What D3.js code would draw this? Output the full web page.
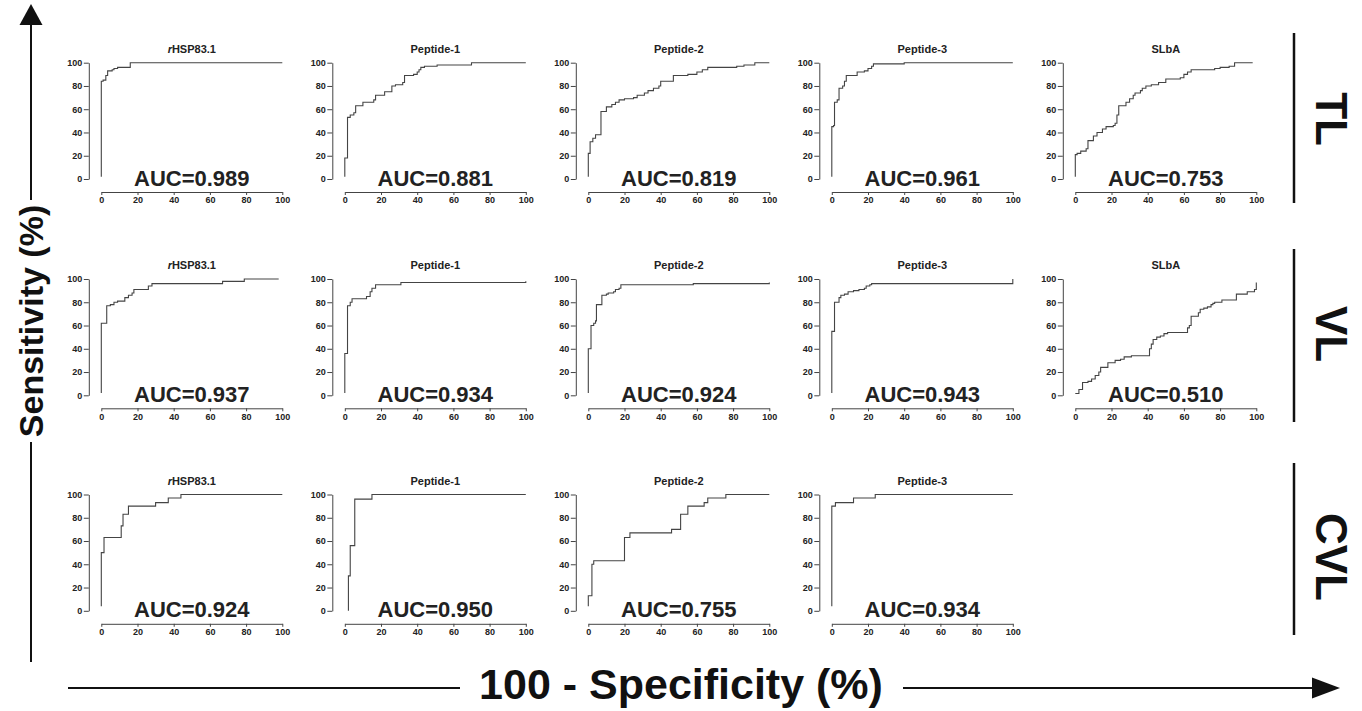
<!DOCTYPE html>
<html><head><meta charset="utf-8">
<script src="https://cdn.jsdelivr.net/npm/d3@7"></script>
<style>body{margin:0;background:#fff}svg{display:block}</style>
</head><body><svg id="c" width="1362" height="711"></svg>
<script>
const rowLabels = ["TL", "VL", "CVL"];
const antigenNames = ["rHSP83.1", "Peptide-1", "Peptide-2", "Peptide-3", "SLbA"];
const axisTicks = [0, 20, 40, 60, 80, 100];
const aucTL = [0.989, 0.881, 0.819, 0.961, 0.753];
const aucVL = [0.937, 0.934, 0.924, 0.943, 0.510];
const aucCVL = [0.924, 0.950, 0.755, 0.934];

const rocTL_rHSP = [[0,2],[0,84],[1,85],[2.5,89],[3.5,93],[6,94],[7,95],[9,96],[16,100],[100,100]];
const rocTL_P1 = [[0,2],[0,18],[1.5,53],[3,55],[5,57],[6,63],[10,66],[16,68],[17,72],[22,75],[26,80],[28,81],[32,83],[33,89],[38,90],[40,92],[41,94],[42,96],[44,97],[51,98],[70,100],[100,100]];
const rocTL_P2 = [[0,2],[0,22],[1,32],[2.5,35],[4,38],[7,58],[10,62],[13,64],[15,66],[17,68],[20,69],[25,70],[27,72],[31,74],[33,76],[36,78],[39,80],[40,84],[47,89],[55,90],[60,92],[63,94],[66,96],[82,97],[86,98],[92,100],[100,100]];
const rocTL_P3 = [[0,2],[0,45],[1,46],[1.5,66],[3,68],[4,78],[6,80],[7,84],[8,89],[14,92],[18,93],[20,95],[22,97],[23,99],[40,100],[100,100]];
const rocTL_SLbA = [[0,2],[0,21],[1,22],[3,24],[6,26],[7,33],[10,37],[12,40],[15,43],[17,45],[21,46],[22,48],[23,55],[24,63],[28,66],[30,69],[32,72],[33,74],[36,76],[37,78],[39,80],[42,81],[46,83],[50,86],[58,87],[60,90],[62,92],[64,94],[77,95],[80,96],[85,97],[88,100],[98,100]];

const rocVL_rHSP = [[0,2],[0,62],[3,77],[5,78],[7,80],[9,81],[13,84],[15,86],[17,88],[18,91],[26,94],[28,96],[67,98],[79,100],[98,100]];
const rocVL_P1 = [[0,2],[0,36],[1.5,77],[3,80],[4,83],[12,85],[14,89],[15,92],[17,95],[31,97],[100,98]];
const rocVL_P2 = [[0,2],[0,40],[1.5,60],[3,62],[4,64],[4.5,78],[7.5,86],[10,87],[11,88],[14,89],[15,91],[17,92],[18,95],[58,96],[100,97]];
const rocVL_P3 = [[0,2],[0,55],[1.5,80],[4,84],[5,86],[7,87],[9,89],[12,90],[15,91],[18,92],[19,94],[21,95],[22,96],[100,100]];
const rocVL_SLbA = [[0,1.5],[2,5],[4,11],[7,12],[9,14],[11,17],[13,20],[14,24],[18,28],[22,30],[25,31],[27,33],[31,34],[41,40],[42,44],[43,48],[45,50],[47,51],[49,53],[51,54],[62,58],[63,60],[64,68],[68,71],[69,74],[71,75],[73,76],[75,78],[76,79],[77,80],[81,82],[89,87],[95,89],[99,91],[100,97]];

const rocCVL_rHSP = [[0,4],[0,50],[1.5,63],[11,73],[12,83],[15,90],[30,93],[37,97],[44,100],[100,100]];
const rocCVL_P1 = [[2,0],[2,30],[3,56],[5.5,96],[15,100],[100,100]];
const rocCVL_P2 = [[0,4],[0,13],[2,40],[3,43],[20,63],[23,67],[46,70],[51,83],[55,90],[64,93],[66,97],[76,100],[100,100]];
const rocCVL_P3 = [[0,4],[0,90],[2,93],[12,97],[24,100],[100,100]];

const rocRows = [
  [rocTL_rHSP, rocTL_P1, rocTL_P2, rocTL_P3, rocTL_SLbA],
  [rocVL_rHSP, rocVL_P1, rocVL_P2, rocVL_P3, rocVL_SLbA],
  [rocCVL_rHSP, rocCVL_P1, rocCVL_P2, rocCVL_P3]
];
const aucRows = [aucTL, aucVL, aucCVL];

// layout
const FONT = "'Liberation Sans', Arial, Helvetica, sans-serif";
const INK = "#222";
const LINE = "#444";
const colX0 = c => 101.3 + 243.5 * c;
const PW = 181;
const rowTop = [62.7, 279, 494.5];
const PH = 116.3;

const svg = d3.select("#c");

rocRows.forEach((row, r) => {
  row.forEach((pts, c) => {
    const x0 = colX0(c), yT = rowTop[r];
    const xs = d3.scaleLinear().domain([0, 100]).range([x0, x0 + PW]);
    const ys = d3.scaleLinear().domain([0, 100]).range([yT + PH, yT]);
    const g = svg.append("g");

    const yAx = g.append("g").attr("transform", `translate(${x0 - 12.5},0)`)
      .call(d3.axisLeft(ys).tickValues(axisTicks).tickSize(5).tickSizeOuter(0).tickPadding(1.5));
    const xAx = g.append("g").attr("transform", `translate(0,${yT + PH + 13})`)
      .call(d3.axisBottom(xs).tickValues(axisTicks).tickSize(3).tickSizeOuter(0).tickPadding(2));
    [yAx, xAx].forEach(a => {
      a.selectAll("path.domain").attr("stroke", LINE).attr("stroke-width", 1);
      a.selectAll(".tick line").attr("stroke", LINE).attr("stroke-width", 1);
      a.selectAll(".tick text").attr("fill", INK).style("font-family", FONT)
        .style("font-weight", "bold").style("font-size", "9px");
    });

    g.append("path").datum(pts)
      .attr("fill", "none").attr("stroke", LINE).attr("stroke-width", 1.1)
      .attr("d", d3.line().x(d => xs(d[0])).y(d => ys(d[1])).curve(d3.curveStepAfter));

    const t = g.append("text").attr("x", x0 + PW / 2).attr("y", yT - 10)
      .attr("text-anchor", "middle").attr("fill", INK)
      .style("font-family", FONT).style("font-weight", "bold").style("font-size", "11px");
    const name = antigenNames[c];
    if (name.startsWith("r")) {
      t.append("tspan").style("font-style", "italic").text("r");
      t.append("tspan").text(name.slice(1));
    } else t.text(name);

    g.append("text").attr("x", x0 + PW / 2).attr("y", yT + PH + 6.5)
      .attr("text-anchor", "middle").attr("fill", INK)
      .style("font-family", FONT).style("font-weight", "bold").style("font-size", "22px")
      .text("AUC=" + aucRows[r][c].toFixed(3));
  });
});

// right-side row labels
const sideLines = [[33, 203], [249, 422], [463, 635]];
const sideTextY = [119, 334, 557];
rowLabels.forEach((lab, r) => {
  const [a, b] = sideLines[r];
  svg.append("line").attr("x1", 1294).attr("x2", 1294).attr("y1", a).attr("y2", b)
    .attr("stroke", "#111").attr("stroke-width", 2.5);
  svg.append("text").attr("transform", `translate(1316,${sideTextY[r]}) rotate(90)`)
    .attr("text-anchor", "middle").attr("fill", "#111")
    .style("font-family", FONT).style("font-weight", "bold").style("font-size", "44px")
    .text(lab);
});

// y axis label with arrow
svg.append("line").attr("x1", 31).attr("x2", 31).attr("y1", 22).attr("y2", 200)
  .attr("stroke", "#111").attr("stroke-width", 2);
svg.append("path").attr("d", "M31,4 L19.5,25 L42.5,25 Z").attr("fill", "#111");
svg.append("line").attr("x1", 31).attr("x2", 31).attr("y1", 442).attr("y2", 662)
  .attr("stroke", "#111").attr("stroke-width", 2);
svg.append("text").attr("transform", "translate(43,321) rotate(-90)")
  .attr("text-anchor", "middle").attr("fill", "#111")
  .style("font-family", FONT).style("font-weight", "bold").style("font-size", "34px")
  .text("Sensitivity (%)");

// x axis label with arrow
svg.append("line").attr("x1", 68).attr("x2", 460).attr("y1", 688).attr("y2", 688)
  .attr("stroke", "#111").attr("stroke-width", 2);
svg.append("line").attr("x1", 903).attr("x2", 1318).attr("y1", 688).attr("y2", 688)
  .attr("stroke", "#111").attr("stroke-width", 2);
svg.append("path").attr("d", "M1340,688 L1312,677.5 L1312,698.5 Z").attr("fill", "#111");
svg.append("text").attr("x", 681).attr("y", 699)
  .attr("text-anchor", "middle").attr("fill", "#111")
  .style("font-family", FONT).style("font-weight", "bold").style("font-size", "43px")
  .text("100 - Specificity (%)");
</script></body></html>
